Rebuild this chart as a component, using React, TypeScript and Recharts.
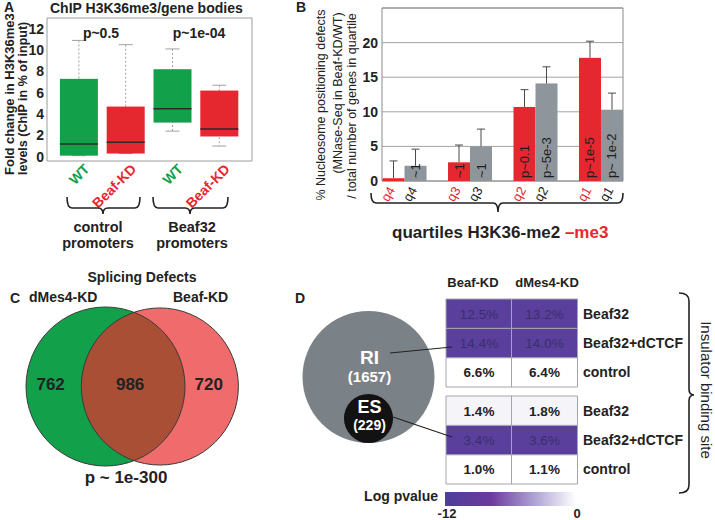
import React from "react";
import {
  ComposedChart,
  BarChart,
  Bar,
  XAxis,
  YAxis,
  CartesianGrid,
  ReferenceArea,
  LabelList,
  Cell,
  ScatterChart,
  Scatter,
} from "recharts";

const FONT = "'Liberation Sans', Arial, Helvetica, sans-serif";
const GREEN = "#12a04b";
const RED = "#e5282f";
const GREY = "#8e959b";
const INK = "#222";

// A: H3K36me3 over gene bodies, box plots
const boxConditions = ["WT", "Beaf-KD", "WT", "Beaf-KD"];
const boxLow = [0.1, 0.3, 2.4, 1.0];
const boxQ1 = [0.1, 0.3, 3.2, 1.9];
const boxMedian = [1.2, 1.35, 4.5, 2.6];
const boxQ3 = [7.3, 4.7, 8.2, 6.2];
const boxHigh = [10.9, 10.5, 10.1, 6.7];
const boxTicks = [0, 2, 4, 6, 8, 10, 12];
const boxGroups = ["control", "Beaf32"];
const boxPvals = ["p~0.5", "p~1e-04"];

// B: nucleosome positioning defects per quartile
const quartiles = ["q4", "q3", "q2", "q1"];
const me3Pct = [0.4, 2.7, 10.7, 17.8];
const me3Err = [2.5, 2.5, 2.5, 2.4];
const me3P = ["", "~1", "p~0.1", "p~1e-5"];
const me2Pct = [2.2, 5.0, 14.1, 10.3];
const me2Err = [2.4, 2.5, 2.4, 2.4];
const me2P = ["~1", "~1", "p~5e-3", "p~ 1e-2"];
const pctTicks = [0, 5, 10, 15, 20, 25];

// C: splicing defects venn
const vennNames = ["dMes4-KD", "Beaf-KD"];
const vennOnly = [762, 720];
const vennBoth = 986;
const vennP = "p ~ 1e-300";

// D: retained introns / exon skipping
const eventNames = ["RI", "ES"];
const eventCounts = [1657, 229];
const tableCols = ["Beaf-KD", "dMes4-KD"];
const siteRows = ["Beaf32", "Beaf32+dCTCF", "control"];
const riPct = [[12.5, 13.2], [14.4, 14.0], [6.6, 6.4]];
const riLogP = [[-12, -12], [-12, -12], [0, 0]];
const esPct = [[1.4, 1.8], [3.4, 3.6], [1.0, 1.1]];
const esLogP = [[-0.7, -0.7], [-12, -12], [0, 0]];

const boxData = boxConditions.map((cond, i) => ({
  pos: i + 1,
  cond,
  low: boxLow[i],
  q1: boxQ1[i],
  med: boxMedian[i],
  q3: boxQ3[i],
  high: boxHigh[i],
  range: [boxLow[i], boxHigh[i]],
}));

const quartileData = quartiles.map((q, i) => ({
  pos: i + 1,
  q,
  me3: me3Pct[i],
  me3Err: me3Err[i],
  me3P: me3P[i],
  me2: me2Pct[i],
  me2Err: me2Err[i],
  me2P: me2P[i],
}));

function BoxShape(props: any) {
  const { x, y, width, height, payload } = props;
  const top = Math.min(y, y + height);
  const k = Math.abs(height) / (payload.high - payload.low);
  const py = (v: number) => top + (payload.high - v) * k;
  const cx = x + width / 2;
  const fill = payload.cond === "WT" ? GREEN : RED;
  return (
    <g>
      <line x1={cx} x2={cx} y1={py(payload.high)} y2={py(payload.low)} stroke="#a0a0a0" strokeDasharray="2 2" />
      <line x1={cx - 7} x2={cx + 7} y1={py(payload.high)} y2={py(payload.high)} stroke="#a0a0a0" />
      <line x1={cx - 7} x2={cx + 7} y1={py(payload.low)} y2={py(payload.low)} stroke="#a0a0a0" />
      <rect x={x} y={py(payload.q3)} width={width} height={py(payload.q1) - py(payload.q3)} fill={fill} />
      <line x1={x} x2={x + width} y1={py(payload.med)} y2={py(payload.med)} stroke="#2a2a2a" strokeWidth={1.4} />
    </g>
  );
}

function ConditionTick(props: any) {
  const { x, y, payload } = props;
  const cond = boxConditions[payload.value - 1];
  const tx = x + 11;
  const ty = y + 9;
  return (
    <text
      x={tx}
      y={ty}
      transform={`rotate(-45 ${tx} ${ty})`}
      textAnchor="end"
      fill={cond === "WT" ? GREEN : RED}
      fontSize={14}
      fontWeight="bold"
      fontFamily={FONT}
    >
      {cond}
    </text>
  );
}

const errShape = (valKey: string, errKey: string) => (props: any) => {
  const { x, y, width, height, fill, payload } = props;
  const v = payload[valKey];
  const k = v ? height / v : 0;
  const cx = x + width / 2;
  const top = y - payload[errKey] * k;
  return (
    <g>
      <rect x={x} y={y} width={width} height={height} fill={fill} />
      <line x1={cx} x2={cx} y1={y} y2={top} stroke="#4a4a4a" />
      <line x1={cx - 4} x2={cx + 4} y1={top} y2={top} stroke="#4a4a4a" />
    </g>
  );
};

const insideLabel = (props: any) => {
  const { x, y, width, height, value } = props;
  if (!value) return null;
  const tx = x + width / 2 + 4.5;
  const ty = y + height - 3;
  return (
    <text x={tx} y={ty} transform={`rotate(-90 ${tx} ${ty})`} fontSize={13} fill="#1e1e1e" fontFamily={FONT}>
      {value}
    </text>
  );
};

const quartileLabel = (color: string) => (props: any) => {
  const { x, y, width, height, value } = props;
  const tx = x + width / 2 + 2;
  const ty = y + height + 9;
  return (
    <text x={tx} y={ty} transform={`rotate(-60 ${tx} ${ty})`} textAnchor="end" fontSize={13} fill={color} fontFamily={FONT}>
      {value}
    </text>
  );
};

// area-proportional venn layout
function lensArea(r1: number, r2: number, d: number) {
  if (d >= r1 + r2) return 0;
  if (d <= Math.abs(r1 - r2)) return Math.PI * Math.min(r1, r2) ** 2;
  const a = r1 * r1 * Math.acos((d * d + r1 * r1 - r2 * r2) / (2 * d * r1));
  const b = r2 * r2 * Math.acos((d * d + r2 * r2 - r1 * r1) / (2 * d * r2));
  const c = 0.5 * Math.sqrt((-d + r1 + r2) * (d + r1 - r2) * (d - r1 + r2) * (d + r1 + r2));
  return a + b - c;
}

function vennDistance(r1: number, r2: number, overlap: number) {
  let lo = Math.abs(r1 - r2);
  let hi = r1 + r2;
  for (let i = 0; i < 60; i++) {
    const mid = (lo + hi) / 2;
    if (lensArea(r1, r2, mid) > overlap) lo = mid;
    else hi = mid;
  }
  return (lo + hi) / 2;
}

const vennSizes = vennOnly.map((n) => n + vennBoth);
const vennR = vennSizes.map((s) => Math.sqrt(s / Math.PI));
const vennD = vennDistance(vennR[0], vennR[1], vennBoth);
const PX_C = 79.5 / vennR[0];
const vennFills = [GREEN, "#ea2c2c"];
const vennCircles = vennSizes.map((size, i) => ({ x: i === 0 ? 0 : vennD, y: 0, size, fill: vennFills[i], opacity: i === 0 ? 1 : 0.7 }));
const vennLabels = [
  { x: (-vennR[0] + vennD - vennR[1]) / 2, y: 0, text: String(vennOnly[0]) },
  { x: (vennD - vennR[1] + vennR[0]) / 2, y: 0, text: String(vennBoth) },
  { x: (vennR[0] + vennD + vennR[1]) / 2, y: 0, text: String(vennOnly[1]) },
];

const eventR = eventCounts.map((n) => Math.sqrt(n / Math.PI));
const PX_D = 66 / eventR[0];
const eventCircles = eventNames.map((name, i) => ({
  x: 0,
  y: i === 0 ? 0 : -(eventR[0] - eventR[1]),
  size: eventCounts[i],
  name,
  fill: i === 0 ? "#7b8287" : "#121212",
}));

const vennFill = (props: any) => {
  const { cx, cy, payload } = props;
  const r = PX_C * Math.sqrt(payload.size / Math.PI);
  return <circle cx={cx} cy={cy} r={r} fill={payload.fill} fillOpacity={payload.opacity} />;
};
const vennOutline = (props: any) => {
  const { cx, cy, payload } = props;
  const r = PX_C * Math.sqrt(payload.size / Math.PI);
  return <circle cx={cx} cy={cy} r={r} fill="none" stroke="#3a3a3a" strokeWidth={1} />;
};
const vennText = (props: any) => {
  const { cx, cy, payload } = props;
  return (
    <text x={cx - 3} y={cy + 3} textAnchor="middle" fontSize={17} fontWeight="bold" fill={INK} fontFamily={FONT}>
      {payload.text}
    </text>
  );
};
const eventShape = (props: any) => {
  const { cx, cy, payload } = props;
  const r = PX_D * Math.sqrt(payload.size / Math.PI);
  const big = payload.name === "RI";
  return (
    <g fontFamily={FONT} fontWeight="bold" fill="#fff" textAnchor="middle">
      <circle cx={cx} cy={cy} r={r} fill={payload.fill} />
      <text x={cx + 1} y={big ? cy - 13 : cy - 5} fontSize={big ? 19 : 18} fill="#fff">{payload.name}</text>
      <text x={cx + 1} y={big ? cy + 5 : cy + 12} fontSize={big ? 15 : 14} fill="#fff">({payload.size})</text>
    </g>
  );
};

function heat(lp: number) {
  const t = Math.min(1, Math.max(0, -lp / 12));
  const mix = (a: number) => Math.round(255 + (a - 255) * t);
  return `rgb(${mix(90)},${mix(63)},${mix(157)})`;
}

function buildTable(pct: number[][]) {
  return tableCols.map((col, c) => {
    const row: any = { col };
    siteRows.forEach((_, r) => {
      row[`r${r}`] = 1;
      row[`p${r}`] = pct[r][c];
    });
    return row;
  });
}

function HeatTable({ pct, logp }: { pct: number[][]; logp: number[][] }) {
  const data = buildTable(pct);
  const order = [2, 1, 0];
  return (
    <BarChart width={252} height={90} data={data} barCategoryGap={0} margin={{ top: 1, right: 0, bottom: 1, left: 1 }}>
      <XAxis dataKey="col" hide />
      <YAxis
        orientation="right"
        type="number"
        domain={[0, 3]}
        ticks={[0.5, 1.5, 2.5]}
        tickFormatter={(v: number) => siteRows[2 - Math.floor(v)]}
        width={120}
        axisLine={false}
        tickLine={false}
        tickSize={0}
        tickMargin={6}
        tick={{ fontSize: 14, fontWeight: "bold", fill: INK, fontFamily: FONT }}
      />
      {order.map((r) => (
        <Bar key={r} dataKey={`r${r}`} stackId="t" isAnimationActive={false}>
          {tableCols.map((col, c) => (
            <Cell key={col} fill={heat(logp[r][c])} stroke="#a4a4ae" strokeWidth={1} />
          ))}
          <LabelList
            dataKey={`p${r}`}
            content={(p: any) => {
              const dark = -logp[r][p.index] / 12 > 0.5;
              return (
                <text
                  x={p.x + p.width / 2}
                  y={p.y + p.height / 2 + 5}
                  textAnchor="middle"
                  fontSize={13.5}
                  fontWeight={dark ? "normal" : "bold"}
                  fill={dark ? "#3a2f68" : INK}
                  fontFamily={FONT}
                >
                  {`${Number(p.value).toFixed(1)}%`}
                </text>
              );
            }}
          />
        </Bar>
      ))}
    </BarChart>
  );
}

const abs = (left: number, top: number): React.CSSProperties => ({ position: "absolute", left, top });

export default function App() {
  return (
    <div style={{ position: "absolute", left: 0, top: 0, width: 715, height: 520, background: "#fff", fontFamily: FONT }}>
      {/* A */}
      <div style={abs(0, 0)}>
        <ComposedChart width={256} height={215} data={boxData} margin={{ top: 18, right: 4, bottom: 0, left: 0 }}>
          <XAxis
            type="number"
            dataKey="pos"
            domain={[0.31, 4.69]}
            ticks={[1, 2, 3, 4]}
            interval={0}
            height={54}
            axisLine={false}
            tickLine={false}
            tickSize={0}
            tickMargin={0}
            tick={(p: any) => <ConditionTick {...p} />}
          />
          <YAxis
            type="number"
            domain={[-0.4, 13]}
            ticks={boxTicks}
            width={47}
            axisLine={false}
            tickLine={false}
            tickSize={0}
            tickMargin={3}
            tick={{ fontSize: 14, fontWeight: "bold", fill: INK, fontFamily: FONT }}
          />
          <ReferenceArea x1={0.31} x2={4.69} y1={-0.4} y2={13} fill="none" stroke="#9c9c9c" />
          <Bar dataKey="range" barSize={38} shape={(p: any) => <BoxShape {...p} />} isAnimationActive={false} />
        </ComposedChart>
      </div>

      {/* B */}
      <div style={abs(338, 0)}>
        <ComposedChart width={292} height={215} data={quartileData} barGap={0} margin={{ top: 8, right: 7, bottom: 34, left: 0 }}>
          <CartesianGrid vertical={false} stroke="#a3a3a3" />
          <XAxis type="number" dataKey="pos" domain={[0.66, 4.34]} ticks={[1, 2, 3, 4]} hide />
          <YAxis
            type="number"
            domain={[0, 25]}
            ticks={pctTicks}
            tickFormatter={(v: number) => (v === 25 ? "" : String(v))}
            width={44}
            axisLine={false}
            tickLine={false}
            tickSize={0}
            tickMargin={4}
            tick={{ fontSize: 14, fontWeight: "bold", fill: INK, fontFamily: FONT }}
          />
          <ReferenceArea x1={0.66} x2={4.34} y1={0} y2={25} fill="none" stroke="#8a8a8a" />
          <Bar dataKey="me3" fill={RED} barSize={22} shape={errShape("me3", "me3Err")} isAnimationActive={false}>
            <LabelList dataKey="me3P" content={insideLabel} />
            <LabelList dataKey="q" content={quartileLabel(RED)} />
          </Bar>
          <Bar dataKey="me2" fill={GREY} barSize={22} shape={errShape("me2", "me2Err")} isAnimationActive={false}>
            <LabelList dataKey="me2P" content={insideLabel} />
            <LabelList dataKey="q" content={quartileLabel(INK)} />
          </Bar>
        </ComposedChart>
      </div>

      {/* C */}
      <div style={abs(0, 262)}>
        <ScatterChart width={290} height={250} margin={{ top: 0, right: 0, bottom: 0, left: 0 }}>
          <XAxis type="number" dataKey="x" domain={[-105.5 / PX_C, 184.5 / PX_C]} hide />
          <YAxis type="number" dataKey="y" domain={[-125.5 / PX_C, 124.5 / PX_C]} hide />
          <Scatter data={[vennCircles[0]]} shape={vennFill} isAnimationActive={false} />
          <Scatter data={[vennCircles[1]]} shape={vennFill} isAnimationActive={false} />
          <Scatter data={vennCircles} shape={vennOutline} isAnimationActive={false} />
          <Scatter data={vennLabels} shape={vennText} isAnimationActive={false} />
        </ScatterChart>
      </div>

      {/* D circles */}
      <div style={abs(290, 290)}>
        <ScatterChart width={150} height={170} margin={{ top: 0, right: 0, bottom: 0, left: 0 }}>
          <XAxis type="number" dataKey="x" domain={[-78.5 / PX_D, 71.5 / PX_D]} hide />
          <YAxis type="number" dataKey="y" domain={[-83 / PX_D, 87 / PX_D]} hide />
          <Scatter data={[eventCircles[0]]} shape={eventShape} isAnimationActive={false} />
          <Scatter data={[eventCircles[1]]} shape={eventShape} isAnimationActive={false} />
        </ScatterChart>
      </div>

      {/* D tables */}
      <div style={abs(445, 298)}>
        <HeatTable pct={riPct} logp={riLogP} />
      </div>
      <div style={abs(445, 395)}>
        <HeatTable pct={esPct} logp={esLogP} />
      </div>

      {/* annotations */}
      <svg width={715} height={520} style={{ position: "absolute", left: 0, top: 0, pointerEvents: "none" }} fontFamily={FONT}>
        <defs>
          <linearGradient id="logp" x1="0" x2="1" y1="0" y2="0">
            <stop offset="0%" stopColor="#4e3e9a" />
            <stop offset="35%" stopColor="#6c3a9e" />
            <stop offset="70%" stopColor="#b2a8d6" />
            <stop offset="100%" stopColor="#ffffff" />
          </linearGradient>
        </defs>

        <g fontWeight="bold" fill={INK}>
          <text x={4} y={12} fontSize={14}>A</text>
          <text x={50} y={13} fontSize={14}>ChIP H3K36me3/gene bodies</text>
          <text x={101} y={38} fontSize={14} textAnchor="middle">{boxPvals[0]}</text>
          <text x={199} y={38} fontSize={14} textAnchor="middle">{boxPvals[1]}</text>
          <text x={14} y={175} fontSize={13} transform="rotate(-90 14 175)">Fold change in H3K36me3</text>
          <text x={27} y={175} fontSize={12.5} transform="rotate(-90 27 175)">levels (ChIP in % of input)</text>
        </g>
        <g fill="none" stroke={INK} strokeWidth={1.6}>
          <path d="M67,197 Q67,208 72,208 L98,208 Q103,208 103,214 Q103,208 108,208 L135,208 Q140,208 140,197" />
          <path d="M153,197 Q153,208 158,208 L185,208 Q190,208 190,214 Q190,208 195,208 L223,208 Q228,208 228,197" />
        </g>
        <g fontWeight="bold" fill={INK} fontSize={14.5} textAnchor="middle">
          <text x={98} y={232}>{boxGroups[0]}</text>
          <text x={98} y={248}>promoters</text>
          <text x={192} y={232}>{boxGroups[1]}</text>
          <text x={192} y={248}>promoters</text>
        </g>

        <text x={296} y={12} fontSize={14} fontWeight="bold" fill={INK}>B</text>
        <g fontSize={12.5} fill={INK} textAnchor="middle">
          <text x={325} y={105} transform="rotate(-90 325 105)">% Nucleosome positioning defects</text>
          <text x={342} y={93} transform="rotate(-90 342 93)">(MNase-Seq in Beaf-KD/WT)</text>
          <text x={356} y={106} transform="rotate(-90 356 106)">/ total number of genes in quartile</text>
        </g>
        <path d="M371,193 Q371,203 376,203 L493,203 Q498,203 498,212 Q498,203 503,203 L618,203 Q623,203 623,193" fill="none" stroke={INK} strokeWidth={1.6} />
        <text x={392} y={238} fontSize={17} fontWeight="bold" fill={INK}>
          quartiles H3K36-me2 <tspan fill={RED}>–me3</tspan>
        </text>

        <g fontWeight="bold" fill={INK}>
          <text x={10} y={303} fontSize={14}>C</text>
          <text x={142} y={282} fontSize={14} textAnchor="middle">Splicing Defects</text>
          <text x={29} y={302} fontSize={14}>{vennNames[0]}</text>
          <text x={173} y={302} fontSize={14}>{vennNames[1]}</text>
          <text x={126} y={483} fontSize={17} textAnchor="middle">{vennP}</text>
          <text x={295} y={303} fontSize={14}>D</text>
          <text x={473} y={287} fontSize={13} textAnchor="middle">{tableCols[0]}</text>
          <text x={547} y={287} fontSize={13} textAnchor="middle">{tableCols[1]}</text>
        </g>
        <g stroke={INK} strokeWidth={1.2}>
          <line x1={390} y1={353} x2={452} y2={347} />
          <line x1={393} y1={417} x2={452} y2={437} />
        </g>

        <rect x={445} y={492} width={131} height={14} fill="url(#logp)" />
        <g fontWeight="bold" fill={INK}>
          <text x={438} y={501} fontSize={14} textAnchor="end">Log pvalue</text>
          <text x={447} y={518} fontSize={13} textAnchor="middle">-12</text>
          <text x={577} y={518} fontSize={13} textAnchor="middle">0</text>
        </g>

        <path d="M679,293 Q689,293 689,301 L689,389 Q689,395 694,395 Q689,395 689,401 L689,485 Q689,493 679,493" fill="none" stroke={INK} strokeWidth={1.6} />
        <text x={701} y={390} fontSize={15} fill={INK} textAnchor="middle" transform="rotate(90 701 390)">
          Insulator binding site
        </text>
      </svg>
    </div>
  );
}
